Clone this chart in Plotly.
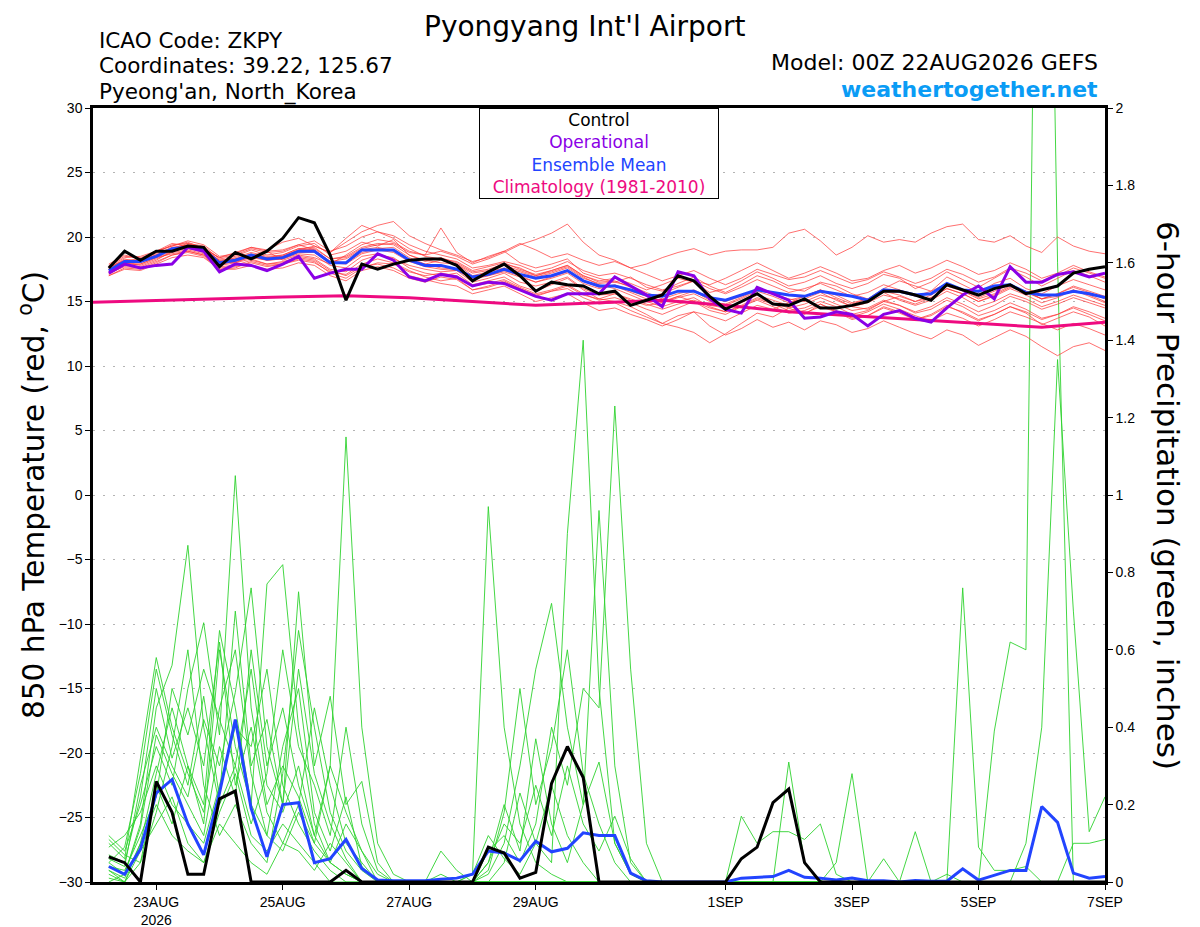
import pandas as pd
import plotly.graph_objects as go

# valid times, 6-hourly from 06Z 22AUG to 00Z 7SEP
times = pd.date_range("2026-08-22 06:00", "2026-09-07 00:00", freq="6h")
clim_times = pd.date_range("2026-08-22", "2026-09-07", freq="D")

# 850 hPa temperature (C)
t_control = [17.6, 18.9, 18.2, 18.9, 18.9, 19.3, 19.2, 17.7, 18.8, 18.3, 18.9, 19.9, 21.5, 21.1, 18.6, 15.1,
             17.9, 17.5, 17.9, 18.2, 18.3, 18.3, 17.8, 16.6, 17.3, 17.9, 17.0, 15.8, 16.5, 16.3, 16.2, 15.6,
             15.8, 14.7, 15.1, 15.5, 17.0, 16.6, 15.4, 14.4, 15.0, 15.6, 14.8, 14.7, 15.2, 14.5, 14.5, 14.7,
             15.0, 15.8, 15.8, 15.5, 15.1, 16.3, 15.9, 15.5, 16.0, 16.3, 15.6, 15.9, 16.2, 17.2, 17.5, 17.7]
t_oper = [17.2, 17.9, 17.6, 17.8, 17.9, 19.2, 18.9, 17.3, 17.9, 17.8, 17.4, 17.9, 18.5, 16.8, 17.2, 17.5,
          17.5, 18.7, 18.2, 16.9, 16.6, 17.1, 16.9, 16.2, 16.5, 16.4, 15.9, 15.4, 15.1, 15.6, 15.6, 15.6,
          16.9, 16.2, 15.5, 14.6, 17.3, 17.0, 15.2, 14.4, 14.1, 16.1, 15.6, 15.1, 13.7, 13.8, 14.2, 14.0,
          13.1, 14.0, 14.3, 13.7, 13.4, 14.5, 15.5, 16.2, 15.2, 17.7, 16.5, 16.5, 17.1, 17.3, 16.9, 17.2]
t_mean = [17.4, 18.1, 18.1, 18.5, 19.1, 19.2, 19.0, 18.0, 18.2, 18.6, 18.3, 18.4, 18.9, 18.9, 18.0, 18.0,
          19.0, 19.0, 19.0, 18.2, 17.8, 17.8, 17.5, 16.9, 17.1, 17.5, 17.1, 16.8, 17.0, 17.4, 16.6, 16.2,
          16.2, 15.9, 15.5, 15.4, 15.8, 15.8, 15.3, 15.1, 15.5, 15.9, 15.7, 15.5, 15.4, 15.8, 15.6, 15.4,
          15.1, 15.9, 15.8, 15.5, 15.6, 16.4, 15.9, 15.8, 16.2, 16.3, 15.7, 15.5, 15.5, 15.8, 15.6, 15.3]
t_clim = [14.95, 15.1, 15.25, 15.35, 15.45, 15.3, 15.0, 14.7, 14.9, 15.1, 14.7, 14.2, 13.9, 13.6, 13.3, 13.0, 13.4]

# ensemble members, temperature
t_mem01 = [17.6, 18.3, 18.0, 18.9, 19.3, 19.6, 19.1, 18.4, 18.8, 19.2, 19.0, 19.6, 19.9, 19.3, 18.8, 19.6,
           20.4, 20.9, 21.2, 20.1, 19.5, 19.0, 18.6, 18.1, 18.4, 18.9, 18.0, 17.6, 17.9, 18.3, 17.2, 16.8,
           16.5, 16.9, 16.1, 15.8, 16.4, 16.9, 16.2, 15.7, 16.3, 17.0, 16.6, 16.0, 15.8, 16.5, 16.2, 15.6,
           15.2, 16.0, 16.6, 16.2, 15.8, 16.9, 16.3, 15.7, 16.4, 16.8, 16.0, 15.6, 16.2, 16.7, 16.3, 15.9]
t_mem02 = [17.2, 17.9, 18.2, 18.6, 19.0, 19.4, 19.2, 18.1, 18.0, 18.5, 18.9, 18.2, 18.6, 18.4, 17.9, 18.6,
           19.4, 19.8, 19.6, 18.9, 18.6, 20.7, 18.8, 18.0, 18.5, 18.9, 19.5, 19.0, 18.4, 18.7, 18.2, 17.8,
           18.1, 17.6, 17.9, 18.4, 18.8, 19.1, 18.6, 18.9, 19.0, 19.0, 19.2, 20.3, 20.6, 19.7, 18.6, 19.2,
           20.1, 19.6, 19.8, 19.6, 20.3, 20.8, 21.0, 19.8, 19.6, 20.1, 19.3, 18.8, 20.0, 19.3, 18.9, 18.7]
t_mem03 = [17.0, 17.6, 17.5, 18.0, 18.6, 18.8, 18.5, 17.5, 17.6, 18.1, 17.8, 17.9, 18.2, 18.0, 17.3, 17.1,
           17.9, 18.3, 18.0, 17.4, 16.9, 16.6, 16.8, 15.9, 16.1, 16.5, 16.0, 15.4, 15.8, 16.0, 15.3, 14.8,
           14.9, 14.3, 13.8, 13.3, 13.9, 14.2, 13.1, 12.4, 12.9, 13.6, 13.0, 13.4, 12.8, 13.5, 13.2, 12.6,
           12.9, 13.5, 13.0, 12.5, 12.1, 12.8, 12.4, 11.6, 12.2, 12.8, 12.3, 11.5, 10.8, 11.5, 11.8, 11.2]
t_mem04 = [17.5, 18.0, 17.8, 18.3, 18.8, 19.0, 18.7, 17.8, 18.0, 18.3, 17.9, 18.0, 18.5, 18.3, 17.5, 17.3,
           18.2, 18.6, 18.4, 17.6, 17.2, 17.0, 17.2, 16.3, 16.6, 16.9, 16.2, 15.8, 16.3, 16.8, 15.9, 15.2,
           15.0, 14.6, 14.0, 13.3, 13.0, 12.6, 11.8, 12.5, 13.3, 14.1, 13.8, 14.5, 14.0, 14.8, 14.3, 13.7,
           13.9, 14.6, 14.2, 13.6, 14.0, 14.7, 14.1, 13.5, 14.0, 14.6, 14.1, 13.2, 13.7, 14.2, 13.8, 13.1]
t_mem05 = [17.8, 18.5, 18.4, 18.8, 19.4, 19.5, 19.3, 18.3, 18.5, 19.0, 18.6, 18.8, 19.3, 19.5, 18.6, 18.9,
           19.6, 19.3, 19.8, 18.6, 18.1, 18.4, 18.0, 17.3, 17.5, 17.9, 17.6, 17.0, 17.4, 17.8, 17.0, 16.6,
           16.8, 16.4, 15.9, 16.3, 16.8, 16.5, 15.7, 16.0, 16.6, 17.3, 16.8, 16.2, 16.5, 17.0, 16.4, 16.0,
           16.4, 17.1, 16.8, 16.0, 16.5, 17.3, 16.7, 16.1, 16.8, 17.5, 16.9, 16.2, 16.8, 17.4, 17.0, 16.5]
t_mem06 = [17.3, 17.8, 17.9, 18.4, 18.9, 19.1, 18.8, 17.9, 18.1, 18.4, 18.2, 18.3, 18.7, 18.6, 17.8, 17.6,
           18.5, 18.7, 18.3, 17.8, 17.5, 17.3, 17.4, 16.5, 16.8, 17.2, 16.5, 16.2, 16.5, 16.9, 16.0, 15.5,
           15.6, 15.1, 14.7, 14.9, 15.4, 15.0, 14.3, 14.0, 14.6, 15.2, 14.8, 14.3, 14.5, 15.0, 14.6, 14.0,
           14.3, 15.0, 14.7, 14.2, 14.6, 15.3, 14.8, 14.2, 14.7, 15.4, 15.0, 14.4, 14.8, 15.3, 14.9, 14.5]
t_mem07 = [17.6, 18.2, 18.3, 18.7, 19.2, 19.4, 19.2, 18.1, 18.4, 18.8, 18.5, 18.6, 19.1, 19.2, 18.3, 18.5,
           19.2, 19.5, 19.4, 18.6, 18.2, 18.0, 17.9, 17.0, 17.3, 17.6, 17.3, 16.9, 17.2, 17.6, 16.8, 16.4,
           16.5, 16.2, 15.7, 15.2, 15.6, 15.9, 15.3, 15.0, 15.4, 16.0, 15.6, 15.2, 15.0, 15.5, 15.2, 14.6,
           14.4, 15.0, 15.4, 15.0, 15.3, 16.0, 15.6, 15.0, 15.5, 16.1, 15.8, 15.2, 15.6, 16.2, 15.8, 15.4]
t_mem08 = [17.1, 17.8, 17.7, 18.2, 18.9, 19.3, 19.0, 18.2, 18.3, 18.7, 18.4, 18.5, 19.0, 19.1, 18.3, 18.4,
           19.1, 19.4, 19.5, 18.8, 18.6, 18.9, 18.5, 17.9, 18.3, 18.8, 19.4, 19.8, 20.3, 21.0, 19.6, 18.6,
           18.2, 17.6, 17.1, 16.6, 17.0, 17.4, 16.8, 16.3, 16.8, 17.5, 17.1, 16.7, 16.9, 17.4, 16.9, 16.4,
           16.7, 17.3, 16.9, 16.4, 16.8, 17.5, 17.1, 16.5, 16.9, 17.6, 17.2, 16.6, 17.0, 17.6, 17.2, 16.8]
t_mem09 = [17.4, 18.0, 17.9, 18.4, 18.7, 18.9, 18.6, 17.7, 17.8, 18.2, 17.9, 18.1, 18.4, 18.2, 17.4, 17.0,
           17.7, 17.9, 17.6, 17.0, 16.7, 16.4, 16.2, 15.6, 15.9, 16.2, 15.6, 15.0, 15.3, 15.6, 14.9, 14.3,
           14.5, 14.0, 13.6, 13.1, 13.6, 14.2, 13.9, 13.5, 14.1, 14.7, 14.4, 14.9, 15.4, 15.9, 15.3, 14.8,
           15.2, 15.7, 15.1, 14.7, 15.1, 15.8, 15.3, 14.6, 15.0, 15.6, 15.2, 14.6, 15.0, 15.5, 15.1, 14.7]
t_mem10 = [17.7, 18.4, 18.5, 18.9, 19.5, 19.3, 19.1, 18.4, 18.6, 19.1, 18.8, 18.9, 19.4, 19.7, 18.9, 19.3,
           20.0, 20.4, 20.1, 19.4, 18.9, 18.6, 18.3, 17.6, 17.8, 18.1, 17.8, 17.3, 17.6, 18.1, 17.4, 17.0,
           17.2, 16.8, 16.3, 15.9, 16.2, 16.6, 16.0, 15.6, 16.1, 16.7, 16.2, 15.7, 16.0, 16.4, 15.9, 15.4,
           15.7, 16.3, 15.9, 15.4, 15.8, 16.4, 15.9, 15.3, 15.8, 16.3, 15.7, 15.2, 15.4, 15.9, 15.5, 15.0]
t_mem11 = [17.5, 18.1, 18.2, 18.6, 19.1, 19.3, 19.0, 18.0, 18.2, 18.6, 18.3, 18.5, 19.0, 19.3, 18.8, 19.9,
           20.9, 20.4, 19.9, 19.1, 18.5, 18.3, 18.1, 17.4, 17.7, 18.0, 17.5, 17.1, 17.4, 17.8, 17.0, 16.5,
           16.6, 16.1, 15.5, 15.0, 15.4, 15.8, 15.1, 14.7, 15.2, 15.8, 15.4, 14.9, 15.2, 15.7, 15.1, 14.6,
           14.9, 15.5, 15.2, 14.8, 15.3, 16.0, 15.6, 15.0, 15.4, 16.0, 15.5, 14.9, 15.3, 15.9, 15.4, 14.9]
t_mem12 = [17.2, 17.7, 17.6, 18.1, 18.6, 18.9, 18.6, 17.6, 17.7, 18.0, 17.7, 17.9, 18.3, 18.1, 17.2, 16.8,
           17.6, 18.0, 17.9, 17.3, 17.0, 17.2, 17.0, 16.2, 16.4, 16.7, 16.1, 15.6, 15.9, 16.3, 15.6, 15.1,
           15.3, 14.9, 14.4, 14.0, 14.5, 15.0, 14.5, 14.2, 14.7, 15.3, 14.9, 14.5, 14.8, 15.3, 14.8, 14.3,
           14.5, 15.1, 14.7, 14.1, 14.4, 15.1, 14.6, 13.9, 14.3, 14.9, 14.4, 13.7, 14.0, 14.5, 14.0, 13.5]
t_mem13 = [17.9, 18.6, 18.3, 18.9, 19.3, 19.7, 19.4, 18.5, 18.7, 19.2, 18.9, 19.0, 19.4, 19.0, 18.1, 18.3,
           19.0, 19.2, 18.9, 18.2, 17.9, 17.6, 17.5, 16.7, 17.0, 17.3, 16.9, 16.5, 16.8, 17.2, 16.4, 16.0,
           16.3, 15.8, 15.4, 15.6, 16.1, 16.6, 16.3, 16.8, 17.4, 18.0, 17.4, 16.8, 17.2, 17.7, 17.2, 16.6,
           16.8, 17.4, 17.8, 17.2, 17.6, 18.2, 17.7, 17.1, 17.4, 18.0, 17.5, 16.8, 17.2, 17.8, 17.3, 16.9]
t_mem14 = [17.0, 17.5, 17.4, 17.9, 18.4, 18.6, 18.4, 17.5, 17.5, 17.8, 17.5, 17.6, 18.0, 17.8, 17.0, 16.6,
           17.4, 17.7, 17.4, 16.8, 16.5, 16.9, 16.7, 15.9, 16.2, 16.6, 16.0, 15.5, 15.8, 16.2, 15.5, 15.2,
           15.6, 15.2, 14.8, 14.4, 14.8, 15.1, 14.7, 14.5, 14.9, 15.5, 15.1, 14.7, 14.1, 14.6, 14.2, 13.8,
           14.2, 14.8, 14.4, 13.9, 13.5, 14.1, 13.7, 13.1, 13.6, 14.2, 13.8, 13.3, 12.8, 13.3, 12.9, 12.4]
t_mem15 = [17.3, 18.0, 18.1, 18.5, 19.0, 19.2, 18.9, 17.9, 18.1, 18.5, 18.2, 18.3, 18.8, 18.8, 18.0, 17.9,
           18.7, 19.0, 18.8, 18.1, 17.7, 17.5, 17.4, 16.8, 17.0, 17.4, 17.0, 16.5, 16.9, 17.3, 16.6, 16.1,
           16.2, 15.7, 15.2, 14.9, 15.3, 15.6, 15.0, 14.8, 15.3, 15.9, 15.6, 15.1, 15.4, 15.9, 15.5, 14.9,
           15.2, 15.8, 15.5, 15.0, 15.5, 16.2, 15.8, 15.2, 15.6, 16.2, 15.8, 15.2, 15.6, 16.1, 15.7, 15.2]
t_mem16 = [17.6, 18.2, 18.1, 18.6, 19.1, 19.5, 19.1, 18.2, 18.3, 18.6, 18.4, 18.6, 19.1, 19.0, 18.1, 18.0,
           18.8, 19.1, 19.2, 18.4, 17.9, 18.2, 17.9, 17.2, 17.4, 17.8, 17.4, 17.0, 17.3, 17.7, 16.9, 16.3,
           16.0, 15.5, 15.0, 14.6, 15.0, 15.3, 14.6, 14.2, 14.6, 15.1, 14.6, 14.1, 14.3, 14.8, 14.2, 13.6,
           13.9, 14.5, 14.1, 13.6, 13.9, 14.6, 14.2, 13.6, 14.0, 14.6, 14.2, 13.6, 14.0, 14.6, 14.2, 13.7]

# 6-hour precipitation (inches)
p_control = [0.065, 0.05, 0.0, 0.26, 0.18, 0.02, 0.02, 0.215, 0.235, 0, 0, 0, 0, 0, 0, 0.03,
             0, 0, 0, 0, 0, 0, 0, 0, 0.09, 0.075, 0.01, 0.025, 0.255, 0.35, 0.27, 0,
             0, 0, 0, 0, 0, 0, 0, 0, 0.06, 0.09, 0.205, 0.24, 0.05, 0, 0, 0,
             0, 0, 0, 0, 0, 0, 0, 0, 0, 0, 0, 0, 0, 0, 0, 0]
p_mean = [0.04, 0.02, 0.085, 0.23, 0.265, 0.15, 0.07, 0.23, 0.42, 0.19, 0.065, 0.20, 0.205, 0.05, 0.06, 0.11,
          0.035, 0.005, 0.003, 0.003, 0.003, 0.007, 0.01, 0.02, 0.08, 0.075, 0.055, 0.105, 0.078, 0.087, 0.127, 0.12,
          0.12, 0.023, 0.003, 0, 0, 0, 0, 0, 0.01, 0.012, 0.014, 0.03, 0.012, 0.01, 0.005, 0.01,
          0.003, 0.003, 0, 0.004, 0.002, 0.002, 0.034, 0.005, 0.018, 0.03, 0.03, 0.195, 0.154, 0.023, 0.01, 0.014]

p_mem01 = [0.10, 0.06, 0.32, 0.58, 0.40, 0.28, 0.18, 0.45, 0.60, 0.28, 0.12, 0.35, 0.50, 0.18, 0.08, 0.22,
           0.04, 0, 0, 0, 0, 0.02, 0, 0.02, 0.12, 0.06, 0.02, 0.10, 0.25, 0.12, 0.05, 0,
           0, 0, 0, 0, 0, 0, 0, 0, 0.17, 0.10, 0.13, 0.13, 0.11, 0.15, 0.02, 0,
           0, 0, 0, 0, 0, 0, 0, 0, 0, 0, 0, 0, 0, 0, 0, 0]
p_mem02 = [0.05, 0.02, 0.15, 0.45, 0.56, 0.87, 0.40, 0.20, 0.30, 0.55, 0.25, 0.18, 0.30, 0.12, 0.05, 0.15,
           0.08, 0.02, 0, 0, 0, 0, 0, 0, 0.05, 0.20, 0.08, 0.37, 0.15, 0.05, 0.20, 0.31,
           0.10, 0.02, 0, 0, 0, 0, 0, 0, 0, 0, 0, 0, 0, 0, 0, 0,
           0, 0, 0, 0, 0, 0, 0, 0, 0, 0, 0, 0, 0, 0, 0, 0]
p_mem03 = [0.12, 0.08, 0.20, 0.35, 0.25, 0.50, 0.67, 0.38, 1.05, 0.45, 0.20, 0.30, 0.22, 0.10, 0.30, 1.15,
           0.40, 0.10, 0.02, 0, 0, 0, 0, 0, 0, 0, 0, 0, 0, 0, 0, 0,
           0, 0, 0, 0, 0, 0, 0, 0, 0, 0, 0, 0.31, 0.05, 0, 0, 0,
           0, 0, 0, 0, 0, 0, 0, 0, 0, 0, 0, 0, 0, 0, 0, 0]
p_mem04 = [0.03, 0, 0.10, 0.28, 0.45, 0.30, 0.15, 0.60, 0.35, 0.20, 0.77, 0.82, 0.40, 0.15, 0.05, 0.02,
           0, 0, 0, 0, 0, 0, 0, 0.02, 0.97, 0.40, 0.15, 0.05, 0.02, 0, 0, 0,
           0, 0, 0, 0, 0, 0, 0, 0, 0, 0, 0, 0, 0, 0, 0.05, 0.28,
           0, 0, 0, 0, 0, 0, 0, 0, 0, 0, 0, 0, 0, 0, 0, 0]
p_mem05 = [0.06, 0.04, 0.25, 0.40, 0.30, 0.22, 0.42, 0.30, 0.49, 0.76, 0.35, 0.20, 0.75, 0.30, 0.48, 0.20,
           0.26, 0.05, 0, 0, 0, 0, 0, 0, 0, 0.05, 0.23, 0.10, 0.05, 0.90, 1.40, 0.50,
           0.10, 0.02, 0, 0, 0, 0, 0, 0, 0, 0, 0, 0, 0, 0, 0, 0,
           0, 0, 0, 0, 0, 0, 0.76, 0.09, 0.03, 0.03, 0.04, 0, 0, 0, 0, 0]
p_mem06 = [0.02, 0, 0.05, 0.18, 0.35, 0.60, 0.25, 0.12, 0.20, 0.10, 0.05, 0.28, 0.65, 0.40, 0.18, 0.08,
           0.03, 0, 0, 0, 0, 0.08, 0.03, 0, 0.02, 0.10, 0.30, 0.55, 0.72, 0.40, 0.20, 0.96,
           0.30, 0.05, 0, 0, 0, 0, 0, 0, 0, 0, 0, 0, 0, 0, 0, 0,
           0, 0, 0, 0, 0, 0, 0, 0, 0, 0, 0, 0, 0, 0, 0, 0]
p_mem07 = [0.09, 0.12, 0.18, 0.30, 0.20, 0.15, 0.10, 0.25, 0.40, 0.35, 0.55, 0.25, 0.15, 0.08, 0.03, 0,
           0, 0, 0, 0, 0, 0, 0, 0, 0.08, 0.12, 0.05, 0.15, 0.40, 0.25, 0.50, 0.45,
           1.23, 0.55, 0.10, 0, 0, 0, 0, 0, 0, 0, 0, 0, 0, 0, 0, 0,
           0, 0, 0, 0.13, 0, 0, 0, 0, 0, 0, 0, 0, 0, 0, 0, 0]
p_mem08 = [0.04, 0.03, 0.12, 0.22, 0.50, 0.38, 0.55, 0.42, 0.30, 0.15, 0.28, 0.60, 0.35, 0.25, 0.12, 0.40,
           0.15, 0.03, 0, 0, 0, 0, 0, 0, 0, 0, 0, 0, 0, 0, 0, 0,
           0, 0, 0, 0, 0, 0, 0, 0, 0, 0, 0, 0, 0, 0, 0, 0,
           0, 0, 0, 0, 0, 0, 0, 0, 0.39, 0.62, 0.60, 4.00, 1.60, 0, 0, 0]
p_mem09 = [0.07, 0.05, 0.22, 0.50, 0.32, 0.45, 0.30, 0.62, 0.25, 0.40, 0.18, 0.10, 0.20, 0.45, 0.25, 0.10,
           0.05, 0, 0, 0, 0, 0, 0, 0, 0, 0, 0, 0, 0, 0, 0, 0,
           0, 0, 0, 0, 0, 0, 0, 0, 0, 0, 0, 0, 0, 0, 0, 0,
           0, 0, 0, 0, 0, 0, 0, 0, 0, 0, 0.10, 0.40, 1.35, 0.70, 0.13, 0.22]
p_mem10 = [0.01, 0, 0.08, 0.15, 0.22, 0.10, 0.05, 0.18, 0.28, 0.12, 0.08, 0.15, 0.10, 0.05, 0, 0,
           0, 0, 0, 0, 0, 0, 0, 0, 0, 0, 0, 0, 0, 0, 0, 0,
           0, 0, 0, 0, 0, 0, 0, 0, 0, 0, 0, 0, 0, 0, 0, 0,
           0, 0, 0, 0, 0, 0.02, 0, 0, 0, 0, 0, 0, 0, 0.10, 0.10, 0.11]
p_mem11 = [0, 0.02, 0.14, 0.38, 0.28, 0.20, 0.12, 0.35, 0.22, 0.60, 0.30, 0.45, 0.25, 0.12, 0.30, 0.18,
           0.08, 0, 0, 0, 0, 0, 0, 0, 0.05, 0.15, 0.10, 0.25, 0.12, 0.30, 0.15, 0.08,
           0.17, 0.06, 0, 0, 0, 0, 0, 0, 0, 0, 0, 0, 0, 0, 0, 0,
           0, 0, 0, 0, 0, 0, 0, 0, 0, 0, 0, 0, 0, 0, 0, 0]
p_mem12 = [0.11, 0.07, 0.05, 0.25, 0.15, 0.30, 0.20, 0.65, 0.45, 0.20, 0.12, 0.08, 0.18, 0.10, 0.05, 0.02,
           0, 0, 0, 0, 0, 0, 0, 0, 0, 0, 0, 0, 0, 0, 0, 0,
           0, 0, 0, 0, 0, 0, 0, 0, 0, 0, 0, 0, 0, 0, 0, 0,
           0, 0.06, 0, 0, 0, 0, 0, 0, 0, 0, 0, 0, 0, 0, 0, 0]
p_mem13 = [0.05, 0.09, 0.28, 0.55, 0.38, 0.25, 0.48, 0.22, 0.70, 0.30, 0.42, 0.20, 0.55, 0.28, 0.15, 0.06,
           0, 0, 0, 0, 0, 0, 0, 0, 0, 0, 0, 0, 0, 0, 0, 0,
           0, 0, 0, 0, 0, 0, 0, 0, 0, 0, 0, 0, 0, 0, 0, 0,
           0, 0, 0, 0, 0, 0, 0, 0, 0, 0, 0, 0, 0, 0, 0, 0]
p_mem14 = [0.03, 0.01, 0.10, 0.20, 0.12, 0.08, 0.05, 0.15, 0.10, 0.05, 0.02, 0.10, 0.08, 0.03, 0.10, 0.05,
           0, 0, 0, 0, 0, 0, 0, 0, 0.03, 0.18, 0.50, 0.20, 0.35, 0.60, 0.28, 0.15,
           0.05, 0, 0, 0, 0, 0, 0, 0, 0, 0, 0, 0, 0, 0, 0, 0,
           0, 0, 0, 0, 0, 0, 0, 0, 0, 0, 0, 0, 0, 0, 0, 0]

t_members = [t_mem01, t_mem02, t_mem03, t_mem04, t_mem05, t_mem06, t_mem07, t_mem08,
             t_mem09, t_mem10, t_mem11, t_mem12, t_mem13, t_mem14, t_mem15, t_mem16]
p_members = [p_mem01, p_mem02, p_mem03, p_mem04, p_mem05, p_mem06, p_mem07,
             p_mem08, p_mem09, p_mem10, p_mem11, p_mem12, p_mem13, p_mem14]

tick_dates = ["2026-08-23", "2026-08-25", "2026-08-27", "2026-08-29",
              "2026-09-01", "2026-09-03", "2026-09-05", "2026-09-07"]
tick_text = ["23AUG<br>2026", "25AUG", "27AUG", "29AUG", "1SEP", "3SEP", "5SEP", "7SEP"]

FONT = "Liberation Sans, Arial, sans-serif"
WIDE = "DejaVu Sans, Verdana, sans-serif"
C_OPER = "#8a00e6"
C_MEAN = "#2244ff"
C_CLIM = "#ee0a80"

fig = go.Figure()

# precipitation on base axis (right side), temperature overlays it (left side)
for m in p_members:
    fig.add_trace(go.Scatter(x=times[:len(m)], y=m, mode="lines", yaxis="y",
                             line=dict(color="#2fd22f", width=0.9), showlegend=False))
fig.add_trace(go.Scatter(x=times, y=p_mean, mode="lines", yaxis="y",
                         line=dict(color=C_MEAN, width=3), showlegend=False))
fig.add_trace(go.Scatter(x=times, y=p_control, mode="lines", yaxis="y",
                         line=dict(color="black", width=3), showlegend=False))

for m in t_members:
    fig.add_trace(go.Scatter(x=times[:len(m)], y=m, mode="lines", yaxis="y2",
                             line=dict(color="rgba(255,55,55,0.8)", width=0.9), showlegend=False))
fig.add_trace(go.Scatter(x=clim_times, y=t_clim, mode="lines", yaxis="y2",
                         line=dict(color=C_CLIM, width=3), showlegend=False))
fig.add_trace(go.Scatter(x=times, y=t_mean, mode="lines", yaxis="y2",
                         line=dict(color=C_MEAN, width=3), showlegend=False))
fig.add_trace(go.Scatter(x=times, y=t_oper, mode="lines", yaxis="y2",
                         line=dict(color=C_OPER, width=3), showlegend=False))
fig.add_trace(go.Scatter(x=times, y=t_control, mode="lines", yaxis="y2",
                         line=dict(color="black", width=3), showlegend=False))

# the page body has an 8px margin, so the figure sits 8px right/down in the window
fig.update_layout(
    width=1200, height=927,
    margin=dict(l=85, r=103, t=100, b=53, autoexpand=False),
    paper_bgcolor="white", plot_bgcolor="white",
    font=dict(family=FONT, size=14, color="black"),
    xaxis=dict(type="date", range=["2026-08-22 00:00", "2026-09-07 00:00"],
               tickvals=tick_dates, ticktext=tick_text, ticks="outside", ticklen=5,
               tickcolor="black", showgrid=False, showline=True, linecolor="black",
               linewidth=2.5, mirror=True, zeroline=False, automargin=False,
               tickfont=dict(size=14)),
    yaxis=dict(side="right", range=[0, 2], dtick=0.2, ticks="outside", ticklen=5,
               tickcolor="black", showgrid=False, showline=True, linecolor="black",
               linewidth=2.5, zeroline=False, automargin=False, tickfont=dict(size=14)),
    yaxis2=dict(overlaying="y", side="left", range=[-30, 30], dtick=5, ticks="outside",
                ticklen=5, tickcolor="black", showgrid=True, gridcolor="#b4b4b4",
                griddash="2px,8px", gridwidth=1, showline=True, linecolor="black",
                linewidth=2.5, zeroline=False, automargin=False, tickfont=dict(size=14)),
)

legend_txt = ("Control<br>"
              f"<span style='color:{C_OPER}'>Operational</span><br>"
              f"<span style='color:{C_MEAN}'>Ensemble Mean</span><br>"
              f"<span style='color:{C_CLIM}'>Climatology (1981-2010)</span>")

fig.add_annotation(xref="paper", yref="paper", x=0.5, y=1.0, xanchor="center", yanchor="top",
                   text=legend_txt, showarrow=False, align="center",
                   font=dict(family=WIDE, size=17, color="black"),
                   bordercolor="black", borderwidth=1, bgcolor="white",
                   width=236, height=87, borderpad=1)

# title sits against the top edge of the figure
fig.add_annotation(xref="paper", yref="paper", x=0.486, y=(882 - 8) / 774, xanchor="center",
                   yanchor="top", text="Pyongyang Int'l Airport", showarrow=False,
                   font=dict(family=WIDE, size=28, color="black"))

header_left = ["ICAO Code: ZKPY", "Coordinates: 39.22, 125.67", "Pyeong'an, North_Korea"]
for k, line in enumerate(header_left):
    fig.add_annotation(xref="paper", yref="paper", x=0.004, y=(882 - (40 + 26 * k)) / 774,
                       xanchor="left", yanchor="middle", text=line, showarrow=False,
                       font=dict(family=WIDE, size=21.5, color="black"))

fig.add_annotation(xref="paper", yref="paper", x=0.9955, y=(882 - 63) / 774, xanchor="right",
                   yanchor="middle", text="Model: 00Z 22AUG2026 GEFS", showarrow=False,
                   font=dict(family=WIDE, size=22, color="black"))
fig.add_annotation(xref="paper", yref="paper", x=0.9955, y=(882 - 89) / 774, xanchor="right",
                   yanchor="middle", text="<b>weathertogether.net</b>", showarrow=False,
                   font=dict(family=WIDE, size=22, color="#0a9cf5"))

fig.add_annotation(xref="paper", yref="paper", x=(32 - 93) / 1012, y=0.5, xanchor="center",
                   yanchor="middle", text="850 hPa Temperature (red, <sup>o</sup>C)",
                   textangle=-90, showarrow=False, font=dict(family=WIDE, size=29.5, color="black"))
fig.add_annotation(xref="paper", yref="paper", x=(1168 - 93) / 1012, y=0.5, xanchor="center",
                   yanchor="middle", text="6-hour Precipitation (green, inches)",
                   textangle=90, showarrow=False, font=dict(family=WIDE, size=31, color="black"))

fig.write_html("out.html")
